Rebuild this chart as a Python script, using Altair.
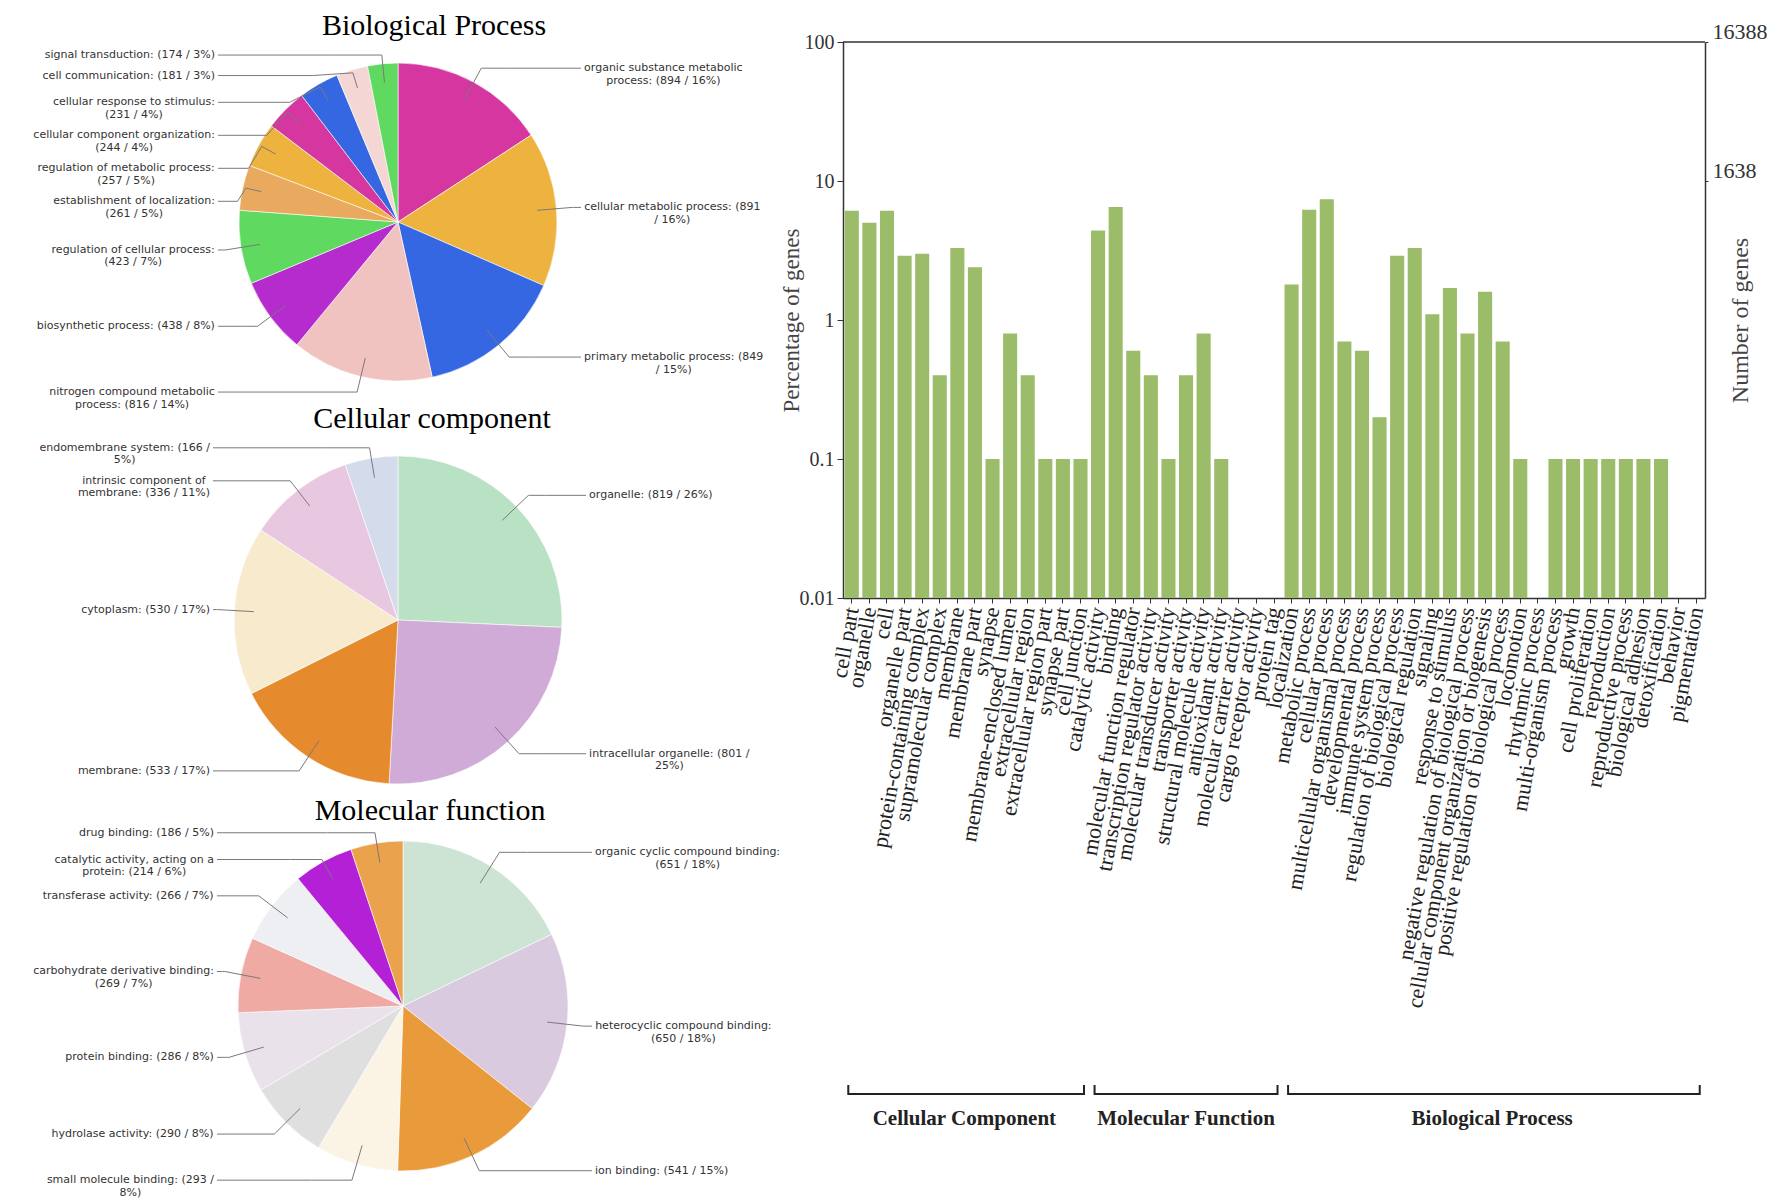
import math
import altair as alt
import pandas as pd

# ---------------- pie data ----------------
BP_TERMS = [
    "organic substance metabolic process", "cellular metabolic process",
    "primary metabolic process", "nitrogen compound metabolic process",
    "biosynthetic process", "regulation of cellular process",
    "establishment of localization", "regulation of metabolic process",
    "cellular component organization", "cellular response to stimulus",
    "cell communication", "signal transduction"]
BP_COUNTS = [894, 891, 849, 816, 438, 423, 261, 257, 244, 231, 181, 174]
BP_PCTS = [16, 16, 15, 14, 8, 7, 5, 5, 4, 4, 3, 3]
BP_COLORS = ["#D6369F", "#EEB33F", "#3467E1", "#F1C3C0", "#B52BCD", "#5FD95F",
             "#E9A95F", "#EEB33F", "#D6369F", "#3467E1", "#F4D7D4", "#5FD95F"]

CC_TERMS = ["organelle", "intracellular organelle", "membrane", "cytoplasm",
            "intrinsic component of membrane", "endomembrane system"]
CC_COUNTS = [819, 801, 533, 530, 336, 166]
CC_PCTS = [26, 25, 17, 17, 11, 5]
CC_COLORS = ["#B9E1C4", "#D1ABD8", "#E68A2E", "#F8EACC", "#E8C7E1", "#D4DCEC"]

MF_TERMS = ["organic cyclic compound binding", "heterocyclic compound binding",
            "ion binding", "small molecule binding", "hydrolase activity",
            "protein binding", "carbohydrate derivative binding",
            "transferase activity", "catalytic activity, acting on a protein",
            "drug binding"]
MF_COUNTS = [651, 650, 541, 293, 290, 286, 269, 266, 214, 186]
MF_PCTS = [18, 18, 15, 8, 8, 8, 7, 7, 6, 5]
MF_COLORS = ["#CDE3D4", "#DACAE0", "#E99A3B", "#FBF4E5", "#DFDFDF", "#E9E2EA",
             "#EFAAA3", "#EDEFF2", "#B320D6", "#EAA24C"]

# label wrapping that the reference uses where a plain width rule differs
WRAP_AFTER_WORDS = {"cellular component organization": 3}

# ---------------- bar data (percentage of genes) ----------------
GO_CC = ["cell part", "organelle", "cell", "organelle part",
         "protein-containing complex", "supramolecular complex", "membrane",
         "membrane part", "synapse", "membrane-enclosed lumen",
         "extracellular region", "extracellular region part", "synapse part",
         "cell junction"]
PCT_CC = [6.1, 5.0, 6.1, 2.9, 3.0, 0.4, 3.3, 2.4, 0.1, 0.8, 0.4, 0.1, 0.1, 0.1]
GO_MF = ["catalytic activity", "binding", "molecular function regulator",
         "transcription regulator activity", "molecular transducer activity",
         "transporter activity", "structural molecule activity",
         "antioxidant activity", "molecular carrier activity",
         "cargo receptor activity", "protein tag"]
PCT_MF = [4.4, 6.5, 0.6, 0.4, 0.1, 0.4, 0.8, 0.1, 0, 0, 0]
GO_BP = ["localization", "metabolic process", "cellular process",
         "multicellular organismal process", "developmental process",
         "immune system process", "regulation of biological process",
         "biological regulation", "signaling", "response to stimulus",
         "negative regulation of biological process",
         "cellular component organization or biogenesis",
         "positive regulation of biological process", "locomotion",
         "rhythmic process", "multi-organism process", "growth",
         "cell proliferation", "reproduction", "reproductive process",
         "biological adhesion", "detoxification", "behavior", "pigmentation"]
PCT_BP = [1.8, 6.2, 7.4, 0.7, 0.6, 0.2, 2.9, 3.3, 1.1, 1.7, 0.8, 1.6, 0.7, 0.1,
          0, 0.1, 0.1, 0.1, 0.1, 0.1, 0.1, 0.1, 0, 0]
GROUPS = ["Cellular Component", "Molecular Function", "Biological Process"]
TOTAL_GENES = 16388

# ---------------- helpers ----------------
CW = {" ": .318, "(": .390, ")": .390, ",": .318, "-": .361, ".": .318,
      "/": .337, ":": .337, "%": .950,
      "a": .613, "b": .635, "c": .550, "d": .635, "e": .615, "f": .352,
      "g": .635, "h": .634, "i": .278, "j": .278, "k": .579, "l": .278,
      "m": .974, "n": .634, "o": .612, "p": .635, "q": .635, "r": .411,
      "s": .521, "t": .392, "u": .634, "v": .592, "w": .818, "x": .592,
      "y": .592, "z": .525}
FS = 11
LINE_H = 12.5
GAP = 8
TOP = 3  # top padding of the whole chart


def text_w(s):
    return sum(CW.get(ch, 0.636) for ch in s) * FS


def wrap(term, s, limit):
    words = s.split(" ")
    if term in WRAP_AFTER_WORDS:
        n = WRAP_AFTER_WORDS[term]
        return [" ".join(words[:n]), " ".join(words[n:])]
    lines, cur = [], ""
    for w in words:
        t = (cur + " " + w) if cur else w
        if not cur or text_w(t) <= limit:
            cur = t
        else:
            lines.append(cur)
            cur = w
    lines.append(cur)
    return lines


LW, LH = 780, 1195
XS = alt.Scale(domain=[0, LW], range=[0, LW], nice=False, zero=False)
YS = alt.Scale(domain=[0, LH], range=[0, LH], nice=False, zero=False)


def pie(terms, counts, pcts, colors, cx, cy, r, limit, title, tx, ty):
    total = sum(counts)
    rows, cum = [], 0
    for i, (t, c, p, col) in enumerate(zip(terms, counts, pcts, colors)):
        mid = (cum + c / 2) / total * 2 * math.pi
        cum += c
        lines = wrap(t, f"{t}: ({c} / {p}%)", limit)
        rows.append(dict(term=t, count=c, color=col, idx=i, mid=mid, lines=lines,
                         side="R" if math.sin(mid) >= 0 else "L",
                         want=cy - 1.1 * r * math.cos(mid),
                         h=len(lines) * LINE_H))
    ymin, ymax = cy - 1.05 * r, cy + 1.12 * r
    for side in "LR":
        grp = sorted([d for d in rows if d["side"] == side], key=lambda d: d["want"])
        prev = None
        for d in grp:
            y = max(d["want"], ymin)
            if prev:
                y = max(y, prev["y"] + (prev["h"] + d["h"]) / 2 + GAP)
            d["y"] = y
            prev = d
        nxt = None
        for d in reversed(grp):
            y = min(d["y"], ymax)
            if nxt:
                y = min(y, nxt["y"] - (nxt["h"] + d["h"]) / 2 - GAP)
            d["y"] = y
            nxt = d

    lx_edge, rx_edge = cx - r - 24, cx + r + 27
    text_rows, line_rows = [], []
    for d in rows:
        w = max(text_w(s) for s in d["lines"])
        s_, c_ = math.sin(d["mid"]), math.cos(d["mid"])
        if d["side"] == "L":
            tx_ = lx_edge - w / 2
            dx = lx_edge + 3
        else:
            tx_ = rx_edge + w / 2
            dx = rx_edge - 3
        y = d["y"]
        text_rows.append(dict(lx=tx_, ly=y, label="\n".join(d["lines"])))
        if abs(c_) > 0.05:
            rb = (cy - y) / c_
            rb = min(max(rb, 0.98 * r), 1.12 * r)
        else:
            rb = 1.03 * r
        ax, ay = cx + 0.88 * r * s_, cy - 0.88 * r * c_
        bx, by = cx + rb * s_, cy - rb * c_
        ccx = bx + 0.3 * (dx - bx)
        for k, (px, py) in enumerate([(ax, ay), (bx, by), (ccx, y), (dx, y)]):
            line_rows.append(dict(term=d["term"], k=k, px=px, py=py))

    arc_df = pd.DataFrame([dict(term=d["term"], count=d["count"], color=d["color"],
                                idx=d["idx"]) for d in rows])
    arc = alt.Chart(arc_df).mark_arc(radius=r, stroke="white", strokeWidth=0.6).encode(
        theta=alt.Theta("count:Q", stack=True),
        order=alt.Order("idx:Q", sort="ascending"),
        color=alt.Color("color:N", scale=None),
        x=alt.value(cx), y=alt.value(cy))
    leaders = alt.Chart(pd.DataFrame(line_rows)).mark_line(
        color="#7a7a7a", strokeWidth=1).encode(
        x=alt.X("px:Q", scale=XS, axis=None),
        y=alt.Y("py:Q", scale=YS, axis=None),
        detail="term:N", order="k:Q")
    labels = alt.Chart(pd.DataFrame(text_rows)).mark_text(
        font="DejaVu Sans", fontSize=FS, color="#333333", align="center",
        baseline="middle", lineBreak="\n", lineHeight=LINE_H).encode(
        x=alt.X("lx:Q", scale=XS, axis=None),
        y=alt.Y("ly:Q", scale=YS, axis=None),
        text="label:N")
    ttl = alt.Chart(pd.DataFrame({"t": [title]})).mark_text(
        font="Liberation Serif", fontSize=30, color="#000000", align="center",
        baseline="alphabetic").encode(text="t:N", x=alt.value(tx), y=alt.value(ty))
    return [arc, leaders, labels, ttl]


left = alt.layer(
    *pie(BP_TERMS, BP_COUNTS, BP_PCTS, BP_COLORS, 390, 214 - TOP, 159, 181,
         "Biological Process", 426, 24),
    *pie(CC_TERMS, CC_COUNTS, CC_PCTS, CC_COLORS, 390, 612 - TOP, 164, 186,
         "Cellular component", 424, 420 - TOP),
    *pie(MF_TERMS, MF_COUNTS, MF_PCTS, MF_COLORS, 395, 998 - TOP, 165, 188,
         "Molecular function", 422, 812 - TOP),
).resolve_scale(theta="independent").properties(width=LW, height=LH)

# ---------------- bar chart ----------------
BW, BH = 862, 556
terms_all = GO_CC + GO_MF + GO_BP
pct_all = PCT_CC + PCT_MF + PCT_BP
bar_df = pd.DataFrame({"term": terms_all, "pct": pct_all})
bar_df = bar_df[bar_df.pct > 0].reset_index(drop=True)

xscale = alt.Scale(domain=terms_all, paddingInner=0.2, paddingOuter=0.1)
yscale = alt.Scale(type="log", domain=[0.01, 100], nice=False)

bars = alt.Chart(bar_df).mark_bar(color="#9BBD69").encode(
    x=alt.X("term:N", scale=xscale, sort=None, title=None,
            axis=alt.Axis(labelAngle=-80, labelAlign="right", labelBaseline="middle",
                          labelFont="Liberation Serif", labelFontSize=22,
                          labelColor="#222222", labelPadding=4, labelLimit=0,
                          labelOverlap=False, tickSize=5, tickColor="#333333",
                          domainColor="#333333", domainWidth=1.5)),
    y=alt.Y("pct:Q", scale=yscale,
            axis=alt.Axis(orient="left", values=[0.01, 0.1, 1, 10, 100], format="~g",
                          grid=False, title="Percentage of genes",
                          labelFont="Liberation Serif", labelFontSize=20,
                          labelColor="#333333", labelPadding=3, tickSize=6,
                          tickColor="#333333", domainColor="#333333", domainWidth=1.5,
                          titleFont="Liberation Serif", titleFontSize=23,
                          titleFontWeight="normal", titleColor="#444444",
                          titleAngle=270, titleX=-52, titleBaseline="middle")),
    y2=alt.datum(0.01))

top_rule = alt.Chart(pd.DataFrame({"pct": [100]})).mark_rule(
    color="#333333", strokeWidth=1.5).encode(
    y=alt.Y("pct:Q", scale=yscale,
            axis=alt.Axis(orient="right", values=[10, 100],
                          labelExpr=f"'' + floor(datum.value * {TOTAL_GENES} / 100)",
                          grid=False, title="Number of genes",
                          labelFont="Liberation Serif", labelFontSize=22,
                          labelColor="#333333", labelPadding=4, tickSize=3,
                          labelBaseline="alphabetic", labelOffset=-4,
                          tickColor="#333333", domainColor="#333333", domainWidth=1.5,
                          titleFont="Liberation Serif", titleFontSize=24,
                          titleFontWeight="normal", titleColor="#444444",
                          titleAngle=270, titleX=35, titleBaseline="middle")))

group_terms = [GO_CC, GO_MF, GO_BP]
br_rows, offs = [], 0
mid_rows = []
for g, ts in zip(GROUPS, group_terms):
    first_i, last_i = offs, offs + len(ts) - 1
    br_rows.append(dict(group=g, first=terms_all[first_i], last=terms_all[last_i]))
    t = (first_i + last_i + 1) / 2
    i = min(max(int(round(t - 0.5)), 0), len(terms_all) - 1)
    b = min(max((t - 0.1 - i) / 0.8, 0.0), 1.0)
    mid_rows.append((g, terms_all[i], b))
    offs += len(ts)
br_df = pd.DataFrame(br_rows)

BR_Y = 1052
hline = alt.Chart(br_df).mark_rule(color="#222222", strokeWidth=2).encode(
    x=alt.X("first:N", scale=xscale, bandPosition=0.25, title=None),
    x2=alt.X2("last:N", bandPosition=0.75),
    y=alt.value(BR_Y))
tick_a = alt.Chart(br_df).mark_rule(color="#222222", strokeWidth=2).encode(
    x=alt.X("first:N", scale=xscale, bandPosition=0.25, title=None),
    y=alt.value(BR_Y - 9), y2=alt.value(BR_Y + 1))
tick_b = alt.Chart(br_df).mark_rule(color="#222222", strokeWidth=2).encode(
    x=alt.X("last:N", scale=xscale, bandPosition=0.75, title=None),
    y=alt.value(BR_Y - 9), y2=alt.value(BR_Y + 1))
group_labels = []
for g, term, b in mid_rows:
    group_labels.append(
        alt.Chart(pd.DataFrame({"group": [g], "mid": [term]})).mark_text(
            font="Liberation Serif", fontWeight="bold", fontSize=21,
            color="#222222", baseline="middle", align="center").encode(
            x=alt.X("mid:N", scale=xscale, bandPosition=b, title=None),
            y=alt.value(BR_Y + 25), text="group:N"))

bar_chart = alt.layer(bars, top_rule, hline, tick_a, tick_b, *group_labels).resolve_scale(
    y="independent").properties(width=BW, height=BH)

spacer = alt.Chart(pd.DataFrame({"v": [0]})).mark_point(opacity=0).properties(
    width=BW, height=34 - TOP)

right_col = alt.vconcat(spacer, bar_chart, spacing=0, bounds="flush")

chart = alt.hconcat(left, right_col, spacing=55, bounds="flush").properties(
    padding={"top": TOP, "left": 0, "right": 0, "bottom": 0}).configure_view(stroke=None)

chart.save("out.html", embed_options={"renderer": "svg", "actions": False})
